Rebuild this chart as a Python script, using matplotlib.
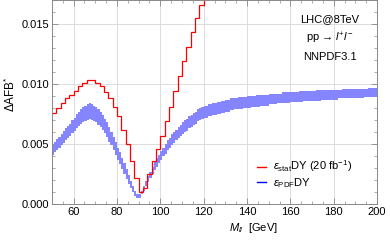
import numpy as np
import matplotlib
matplotlib.use('Agg')
import matplotlib.pyplot as plt
from matplotlib.ticker import MultipleLocator
from matplotlib.lines import Line2D

plt.rcParams['font.family'] = ['Liberation Sans', 'DejaVu Sans']
plt.rcParams['mathtext.fontset'] = 'custom'
plt.rcParams['mathtext.rm'] = 'Liberation Sans'
plt.rcParams['mathtext.it'] = 'Liberation Sans:italic'

# statistical uncertainty (20 fb^-1), 2 GeV bins from 50 to 122
stat_edges = np.arange(50, 123, 2)
stat_dy = [0.0076, 0.0080, 0.0084, 0.0088, 0.0091, 0.0094, 0.0098, 0.0101, 0.0103, 0.0103,
           0.0101, 0.0098, 0.0093, 0.0088, 0.0081, 0.0073, 0.0062, 0.0050, 0.0036, 0.0022,
           0.0010, 0.0013, 0.0025, 0.0036, 0.0046, 0.0057, 0.0069, 0.0081, 0.0094, 0.0107,
           0.0119, 0.0131, 0.0143, 0.0155, 0.0166, 0.0177]

# PDF uncertainty band: 1 GeV bins 50-120, then 2 GeV bins 120-200
pdf_edges = np.concatenate([np.arange(50, 120, 1), np.arange(120, 201, 2)])
pdf_lo = [0.0041, 0.0043, 0.0045, 0.0047, 0.0049, 0.0051, 0.0053, 0.0055, 0.0057, 0.0059,
          0.0061, 0.0063, 0.0065, 0.0067, 0.0068, 0.0069, 0.0070, 0.0071, 0.0070, 0.0069,
          0.0068, 0.0066, 0.0064, 0.0062, 0.0059, 0.0056, 0.0052, 0.0049, 0.0045, 0.0041,
          0.0037, 0.0033, 0.0029, 0.0025, 0.0021, 0.0017, 0.0013, 0.0010, 0.0007, 0.0005,
          0.0005, 0.0008, 0.0011, 0.0015, 0.0018, 0.0022, 0.0025, 0.0028, 0.0031, 0.0034,
          0.0037, 0.0040, 0.0042, 0.0045, 0.0047, 0.0049, 0.0051, 0.0053, 0.0055, 0.0057,
          0.0058, 0.0060, 0.0061, 0.0063, 0.0064, 0.0066, 0.0067, 0.0069, 0.0070, 0.0071,
          0.0072, 0.0073, 0.0074, 0.0075, 0.0076, 0.0077, 0.0078, 0.0079, 0.0079, 0.0080,
          0.0080, 0.0081, 0.0081, 0.0082, 0.0082, 0.0083, 0.0083, 0.0084, 0.0084, 0.0084,
          0.0085, 0.0085, 0.0085, 0.0086, 0.0086, 0.0086, 0.0086, 0.0087, 0.0087, 0.0087,
          0.0087, 0.0088, 0.0088, 0.0088, 0.0088, 0.0088, 0.0088, 0.0089, 0.0089, 0.0089]
pdf_hi = [0.0049, 0.0052, 0.0054, 0.0056, 0.0058, 0.0061, 0.0063, 0.0065, 0.0067, 0.0070,
          0.0072, 0.0075, 0.0077, 0.0079, 0.0081, 0.0082, 0.0083, 0.0084, 0.0083, 0.0082,
          0.0081, 0.0079, 0.0077, 0.0074, 0.0071, 0.0068, 0.0064, 0.0060, 0.0056, 0.0052,
          0.0047, 0.0043, 0.0038, 0.0034, 0.0029, 0.0024, 0.0019, 0.0015, 0.0011, 0.0008,
          0.0008, 0.0011, 0.0015, 0.0019, 0.0023, 0.0027, 0.0031, 0.0035, 0.0038, 0.0041,
          0.0044, 0.0047, 0.0050, 0.0053, 0.0055, 0.0058, 0.0060, 0.0062, 0.0064, 0.0066,
          0.0068, 0.0070, 0.0071, 0.0073, 0.0074, 0.0076, 0.0077, 0.0079, 0.0080, 0.0081,
          0.0082, 0.0083, 0.0084, 0.0085, 0.0086, 0.0087, 0.0088, 0.0088, 0.0089, 0.0089,
          0.0090, 0.0090, 0.0091, 0.0091, 0.0091, 0.0092, 0.0092, 0.0092, 0.0093, 0.0093,
          0.0093, 0.0093, 0.0094, 0.0094, 0.0094, 0.0094, 0.0095, 0.0095, 0.0095, 0.0095,
          0.0095, 0.0095, 0.0096, 0.0096, 0.0096, 0.0096, 0.0096, 0.0096, 0.0097, 0.0097]

fig = plt.figure(figsize=(3.9, 2.4), dpi=100)
ax = fig.add_axes([0.133, 0.15, 0.834, 0.85])

blue = (0.52, 0.52, 1.0)
ax.stairs(pdf_hi, pdf_edges, baseline=pdf_lo, fill=True, color=blue, lw=0)
ax.stairs(stat_dy, stat_edges, color='red', lw=0.9, baseline=None)

ax.set_xlim(50, 200)
ax.set_ylim(0, 0.017)
ax.xaxis.set_major_locator(MultipleLocator(20))
ax.xaxis.set_minor_locator(MultipleLocator(5))
ax.yaxis.set_minor_locator(MultipleLocator(0.001))
ax.set_yticks([0, 0.005, 0.010, 0.015])
ax.set_yticklabels(['0.000', '0.005', '0.010', '0.015'])
ax.grid(True, which='major', color='#dcdcdc', lw=0.7)
ax.set_axisbelow(True)
ax.tick_params(which='both', direction='in', top=True, right=True, labelsize=8,
               color='#888888', pad=2)
ax.tick_params(which='major', length=4, width=0.6)
ax.tick_params(which='minor', length=2, width=0.5)
for s in ax.spines.values():
    s.set_color('#888888')
    s.set_linewidth(0.7)

ax.set_xlabel(r'$M_{ll}$  [GeV]', fontsize=8)
ax.xaxis.set_label_coords(0.62, -0.085)
ax.set_ylabel(r'$\Delta$AFB$^{*}$', fontsize=8.5)
ax.yaxis.set_label_coords(-0.105, 0.54)

ax.text(0.855, 0.905, 'LHC@8TeV', transform=ax.transAxes, ha='center', va='center', fontsize=8)
ax.text(0.855, 0.813, 'pp \u2192 $l^{+}l^{-}$', transform=ax.transAxes, ha='center',
        va='center', fontsize=8)
ax.text(0.855, 0.72, 'NNPDF3.1', transform=ax.transAxes, ha='center', va='center', fontsize=8)

handles = [Line2D([], [], color='red', lw=1), Line2D([], [], color='blue', lw=1)]
labels = [r'$\epsilon_{\rm stat}$DY (20 fb$^{-1}$)', r'$\epsilon_{\rm PDF}$DY']
ax.legend(handles, labels, loc='lower left', bbox_to_anchor=(0.6, 0.02), frameon=False,
          fontsize=8, handlelength=0.8, handletextpad=0.6, labelspacing=0.15)

fig.savefig('out.png', dpi=100)
